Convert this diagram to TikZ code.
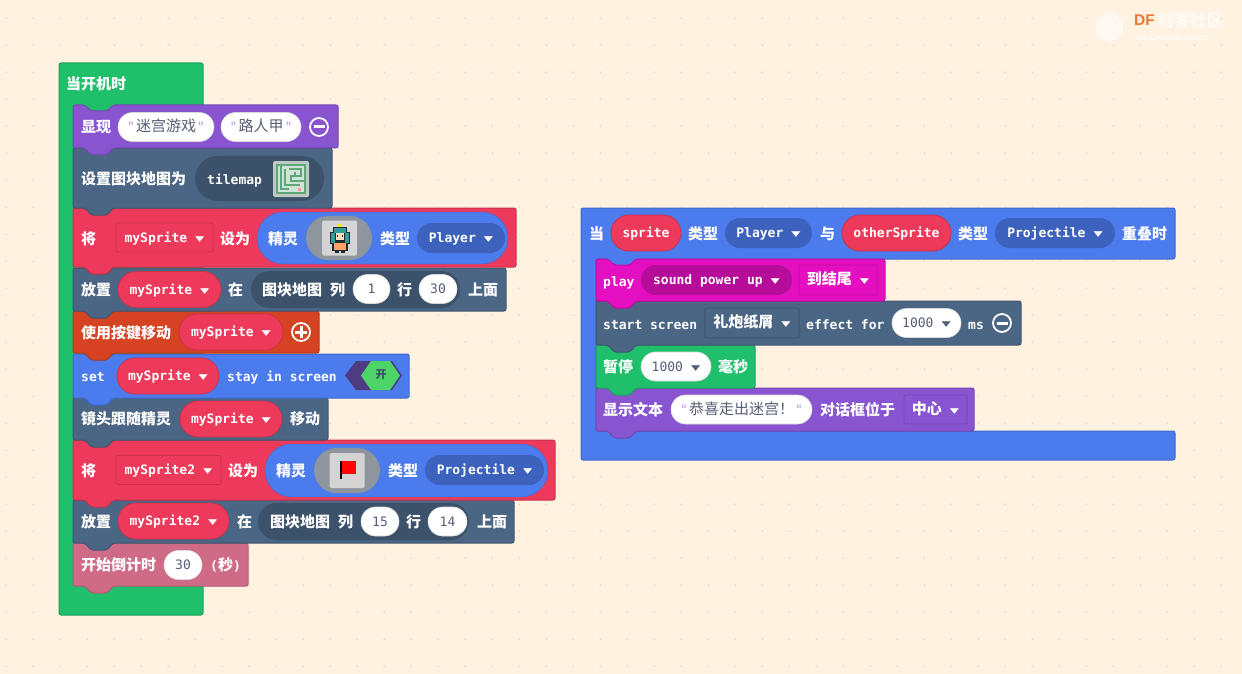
\documentclass[tikz,border=0pt]{standalone}
\usepackage{graphicx}
\usepackage{fontspec}
\usepackage{tikz}
\usetikzlibrary{shapes.misc}
\setmainfont{DejaVu Sans Mono}
\newfontfamily\monofont{DejaVu Sans Mono}
\newfontfamily\symfont{DejaVu Sans}
\newfontfamily\zhfont{Noto Sans CJK SC}
\newfontfamily\logofont{Liberation Sans}
\definecolor{paper}{HTML}{FFF2E1}
\definecolor{dotgrey}{HTML}{E3D8C8}
\definecolor{gamegreen}{HTML}{20BF6B}
\definecolor{gamepurple}{HTML}{8854D0}
\definecolor{slate}{HTML}{4B6584}
\definecolor{slatedark}{HTML}{3C516A}
\definecolor{varred}{HTML}{EE3A5A}
\definecolor{spriteblue}{HTML}{4B7BEC}
\definecolor{kindblue}{HTML}{3C62BD}
\definecolor{ctrlorange}{HTML}{D54322}
\definecolor{infopink}{HTML}{CF6A87}
\definecolor{musicpink}{HTML}{E30FC0}
\definecolor{musicdark}{HTML}{B60C9A}
\definecolor{fieldtext}{HTML}{575E75}
\definecolor{thumbgrey}{HTML}{D4D4D4}
\definecolor{imagegrey}{HTML}{8E959C}
\definecolor{mazegreen}{HTML}{5FA678}
\definecolor{toggledark}{HTML}{4E3B82}
\definecolor{togglegreen}{HTML}{4CD468}
\definecolor{logoorange}{HTML}{E8783A}
\definecolor{hairteal}{HTML}{2E9C9A}
\definecolor{outline}{HTML}{1F2A30}
\def\stackblock#1#2#3#4#5{\draw[blk=#5] (#1,#2) -- (#1+12,#2) -- (#1+18,#2+6) -- (#1+34,#2+6) -- (#1+40,#2) -- (#3,#2) -- (#3,#4) -- (#1+40,#4) -- (#1+34,#4+7) -- (#1+18,#4+7) -- (#1+12,#4) -- (#1,#4) -- cycle;}
\newcommand{\zh}[1]{{\zhfont\fontsize{15}{15}\selectfont\bfseries #1}}
\newcommand{\zhr}[1]{{\zhfont\fontsize{15}{15}\selectfont #1}}
\newcommand{\ms}[1]{{\monofont\fontsize{13}{13}\selectfont\bfseries #1}}
\newcommand{\num}[1]{{\monofont\fontsize{13}{13}\selectfont #1}}
\newcommand{\caret}{\hspace{8pt}\raisebox{1pt}{\scalebox{1}[.62]{\symfont\fontsize{12}{12}\selectfont ▼}}}
\newcommand{\quoted}[2]{{\color{#2}\num{"}}\hspace{1pt}\zhr{#1}\hspace{1pt}{\color{#2}\num{"}}}
\tikzset{
	blk/.style={fill=#1,draw=#1!85!black,line width=1pt,rounded corners=2pt},
	lbl/.style={anchor=west,inner sep=0pt,text=white,text height=14,text depth=2},
	pill/.style={rounded rectangle,fill=#1,draw=#1!85!black,line width=.8pt,inner sep=0pt,text=white,minimum height=36,text height=12,text depth=2.5,font=\monofont\fontsize{13}{13}\selectfont\bfseries},
	kind/.style={pill=kindblue,draw=none,minimum height=30},
	box/.style={rectangle,rounded corners=2pt,fill=#1,draw=#1!85!black,line width=.8pt,inner sep=0pt,text=white,minimum height=29,text height=12,text depth=2.5,font=\monofont\fontsize{13}{13}\selectfont\bfseries},
	inset/.style={rounded rectangle,fill=#1,inner sep=0pt},
	field/.style={rounded rectangle,fill=white,draw=black!15,line width=.6pt,inner sep=0pt,text=fieldtext,minimum height=29,text height=12,text depth=2.5,font=\monofont\fontsize{13}{13}\selectfont},
	thumb/.style={rectangle,rounded corners=1.5pt,fill=thumbgrey,inner sep=0pt,minimum width=35,minimum height=35},
	ring/.style={circle,draw=white,line width=1.8pt,fill=#1,minimum size=18,inner sep=0pt},
	iconbar/.style={draw=white,line width=3pt},
}
\begin{document}
\begin{tikzpicture}[x=1pt,y=-1pt]
	\useasboundingbox (0,0) rectangle (1242,674);
	\fill[paper] (0,0) rectangle (1242,674);
	\foreach \i in {0,...,45}
		\foreach \j in {0,...,24}
			\fill[dotgrey] (6.3+27*\i,18.3+27*\j) circle (1pt);

	% logo
	\fill[white,opacity=.55] (1096,19) -- (1109.5,12) -- (1123,19) -- (1123,36) -- (1109.5,43) -- (1096,36) -- cycle;
	\draw[white,opacity=.55,line width=1.2pt] (1109.5,12) -- (1109.5,8) (1096,20) -- (1090,17) (1123,20) -- (1130,17);
	\node[anchor=west,inner sep=0pt,text=logoorange,font=\logofont\fontsize{15.5}{15.5}\selectfont\bfseries] (logoDF) at (1134,20) {DF};
	\node[anchor=west,inner sep=0pt,text=white!70!paper,font=\zhfont\fontsize{16.5}{16.5}\selectfont\bfseries] (logoName) at (1157,20) {创客社区};
	\node[anchor=west,inner sep=0pt,text=white,font=\logofont\fontsize{8}{8}\selectfont] (logoUrl) at (1137,38) {mc.DFRobot.com.cn};

	% left stack
	\fill[blk=gamegreen] (59,63) rectangle (203,615);
	\foreach \t/\r/\b/\c in {543/248/586/infopink,500/514/543/slate,440/555/500/varred,398/328/440/slate,354/409/398/spriteblue,311/319/353/ctrlorange,268/506/311/slate,208/516/267/varred,148/332/208/slate,105/338/148/gamepurple}
		{\stackblock{73}{\t}{\r}{\b}{\c}}

	\node[lbl] (startLabel) at (66,84) {\zh{当开机时}};

	\node[lbl] (showLabel) at (81,127) {\zh{显现}};
	\node[field,minimum width=96] (showGame) at (166,127) {\quoted{迷宫游戏}{gamepurple!60}};
	\node[field,minimum width=80] (showPlayer) at (261,127) {\quoted{路人甲}{gamepurple!60}};
	\node[ring=gamepurple] (showMinus) at (319,127) {};
	\draw[iconbar] (313.5,127) -- (324.5,127);

	\node[lbl] (mapLabel) at (81,178) {\zh{设置图块地图为}};
	\node[inset=slatedark,minimum width=129,minimum height=45] (mapPill) at (259.5,178.5) {};
	\node[lbl] (mapWord) at (207,178) {\ms{tilemap}};
	\node[thumb,minimum width=36,minimum height=36,fill=thumbgrey!80!mazegreen] (mapThumb) at (291,179) {};
	\fill[mazegreen!30!white] (276,164) rectangle (306,194);
	\draw[mazegreen,line width=1.3pt] (277,165) rectangle (305,193) (281,165) -- (281,189) -- (289,189) (285,169) -- (285,185) -- (300,185) (289,169) -- (301,169) -- (301,176) -- (291,176) -- (291,181) -- (305,181) (295,172) -- (295,176);
	\fill[red!40!white] (298,188) rectangle (301,191);

	\node[lbl] (setLabel) at (81,238) {\zh{将}};
	\node[box=varred,minimum width=97] (setVar) at (164.5,237.5) {mySprite\caret};
	\node[lbl] (setTo) at (220,238) {\zh{设为}};
	\node[inset=spriteblue,draw=spriteblue!85!black,minimum width=251,minimum height=52] (setSprite) at (382.5,238) {};
	\node[lbl] (setSpriteWord) at (268,238) {\zh{精灵}};
	\node[inset=imagegrey,minimum width=66,minimum height=44] (setImage) at (339,238) {};
	\node[thumb] (setThumb) at (339.5,238) {};
	\foreach \x/\y/\w/\h/\c in {338/224/4/3/yellow!90!orange,333/227/14/16/outline,330/232/20/12/outline,334/228/12/5/hairteal,331/233/4/10/hairteal,345/233/4/10/hairteal,336/233/8/7/orange!25!white,337/235/1/2/outline,342/235/1/2/outline,332/243/16/8/outline,334/243/12/7/orange!45!pink,335/250/4/3/outline,341/250/4/3/outline}
		\fill[\c] (\x,\y) rectangle +(\w,\h);
	\node[lbl] (setKind) at (380,238) {\zh{类型}};
	\node[kind,minimum width=88] (setKindPill) at (461,238) {Player\caret};

	\node[lbl] (placeLabel) at (81,289) {\zh{放置}};
	\node[pill=varred,minimum width=103] (placeVar) at (169.5,289.5) {mySprite\caret};
	\node[lbl] (placeAt) at (228,289) {\zh{在}};
	\node[inset=slatedark,minimum width=209,minimum height=37] (placeMap) at (355.5,289.5) {};
	\node[lbl] (placeMapWord) at (262,289) {\zh{图块地图}};
	\node[lbl] (placeCol) at (330,289) {\zh{列}};
	\node[field,minimum width=37] (placeColVal) at (371.5,289) {1};
	\node[lbl] (placeRow) at (397,289) {\zh{行}};
	\node[field,minimum width=38] (placeRowVal) at (438,289) {30};
	\node[lbl] (placeOn) at (468,289) {\zh{上面}};

	\node[lbl] (moveLabel) at (81,332) {\zh{使用按键移动}};
	\node[pill=varred,minimum width=104] (moveVar) at (231,332) {mySprite\caret};
	\node[ring=ctrlorange] (movePlus) at (301,332) {};
	\draw[iconbar] (295,332) -- (307,332) (301,326) -- (301,338);

	\node[lbl] (stayLabel) at (81,375) {\ms{set}};
	\node[pill=varred,minimum width=102] (stayVar) at (168,376) {mySprite\caret};
	\node[lbl] (stayWord) at (227,375) {\ms{stay in screen}};
	\fill[toggledark] (345,375.5) -- (356,361) -- (392,361) -- (402,375.5) -- (392,390) -- (356,390) -- cycle;
	\fill[togglegreen] (361,375.5) -- (371,361) -- (390,361) -- (400,375.5) -- (390,390) -- (371,390) -- cycle;
	\node[inner sep=0pt,text=slatedark,font=\zhfont\fontsize{11}{11}\selectfont\bfseries] (stayOn) at (381,375) {开};

	\node[lbl] (camLabel) at (81,418) {\zh{镜头跟随精灵}};
	\node[pill=varred,minimum width=102] (camVar) at (231,419) {mySprite\caret};
	\node[lbl] (camMove) at (290,418) {\zh{移动}};

	\node[lbl] (setLabelB) at (81,470) {\zh{将}};
	\node[box=varred,minimum width=105] (setVarB) at (168.5,470) {mySprite2\caret};
	\node[lbl] (setToB) at (228,470) {\zh{设为}};
	\node[inset=spriteblue,draw=spriteblue!85!black,minimum width=283,minimum height=53] (setSpriteB) at (406.5,470.5) {};
	\node[lbl] (setSpriteWordB) at (276,470) {\zh{精灵}};
	\node[inset=imagegrey,minimum width=66,minimum height=45] (setImageB) at (347,470.5) {};
	\node[thumb] (setThumbB) at (347,470.5) {};
	\fill[red!95!orange] (342,461) rectangle (356,474);
	\fill[black] (340,461) rectangle (342,479);
	\node[lbl] (setKindB) at (388,470) {\zh{类型}};
	\node[kind,minimum width=119] (setKindPillB) at (484.5,470) {Projectile\caret};

	\node[lbl] (placeLabelB) at (81,521) {\zh{放置}};
	\node[pill=varred,minimum width=111] (placeVarB) at (173.5,521) {mySprite2\caret};
	\node[lbl] (placeAtB) at (237,521) {\zh{在}};
	\node[inset=slatedark,minimum width=211,minimum height=37] (placeMapB) at (363.5,521.5) {};
	\node[lbl] (placeMapWordB) at (270,521) {\zh{图块地图}};
	\node[lbl] (placeColB) at (338,521) {\zh{列}};
	\node[field,minimum width=38] (placeColValB) at (380,521.5) {15};
	\node[lbl] (placeRowB) at (406,521) {\zh{行}};
	\node[field,minimum width=39] (placeRowValB) at (447.5,521.5) {14};
	\node[lbl] (placeOnB) at (477,521) {\zh{上面}};

	\node[lbl] (timerLabel) at (81,564) {\zh{开始倒计时}};
	\node[field,minimum width=38] (timerVal) at (183,565) {30};
	\node[lbl] (timerUnit) at (210,564) {\ms{(}\zh{秒}\ms{)}};

	% right stack
	\draw[blk=spriteblue] (581,208) -- (1175,208) -- (1175,259) -- (636,259) -- (630,266) -- (614,266) -- (608,259) -- (596,259) -- (596,431) -- (1175,431) -- (1175,460) -- (581,460) -- cycle;
	\foreach \t/\r/\b/\c in {388/974/431/gamepurple,345/755/388/gamegreen,301/1021/345/slate,259/885/301/musicpink}
		{\stackblock{596}{\t}{\r}{\b}{\c}}

	\node[lbl] (hitLabel) at (589,233) {\zh{当}};
	\node[pill=varred,minimum width=70] (hitSprite) at (646,233) {sprite};
	\node[lbl] (hitKind) at (688,233) {\zh{类型}};
	\node[kind,minimum width=87] (hitKindPill) at (768.5,233) {Player\caret};
	\node[lbl] (hitWith) at (820,233) {\zh{与}};
	\node[pill=varred,minimum width=109] (hitOther) at (896.5,233) {otherSprite};
	\node[lbl] (hitKindB) at (958,233) {\zh{类型}};
	\node[kind,minimum width=120] (hitKindPillB) at (1055,233) {Projectile\caret};
	\node[lbl] (hitEnd) at (1122,233) {\zh{重叠时}};

	\node[lbl] (playLabel) at (603,280) {\ms{play}};
	\node[inset=musicdark,minimum width=151,minimum height=30,text=white,font=\monofont\fontsize{13}{13}\selectfont\bfseries,text height=12,text depth=2.5] (playSound) at (716.5,280) {sound power up\caret};
	\node[box=musicpink,minimum width=78,minimum height=30] (playMode) at (838,280) {\zh{到结尾}\caret};

	\node[lbl] (screenLabel) at (603,323) {\ms{start screen}};
	\node[box=slate,draw=slatedark,minimum width=94,minimum height=30] (screenEffect) at (752,323) {\zh{礼炮纸屑}\caret};
	\node[lbl] (screenFor) at (806,323) {\ms{effect for}};
	\node[field,minimum width=69] (screenTime) at (926.5,323) {1000\caret};
	\node[lbl] (screenMs) at (968,323) {\ms{ms}};
	\node[ring=slate] (screenMinus) at (1002,323) {};
	\draw[iconbar] (996.5,323) -- (1007.5,323);

	\node[lbl] (pauseLabel) at (603,366) {\zh{暂停}};
	\node[field,minimum width=70] (pauseTime) at (676,366.5) {1000\caret};
	\node[lbl] (pauseUnit) at (718,366) {\zh{毫秒}};

	\node[lbl] (textLabel) at (603,409) {\zh{显示文本}};
	\node[field,minimum width=141] (textVal) at (741.5,409.5) {\quoted{恭喜走出迷宫！}{gamepurple!60}};
	\node[lbl] (textPos) at (820,409) {\zh{对话框位于}};
	\node[box=gamepurple,minimum width=63] (textWhere) at (935.5,409.5) {\zh{中心}\caret};
\end{tikzpicture}
\end{document}
